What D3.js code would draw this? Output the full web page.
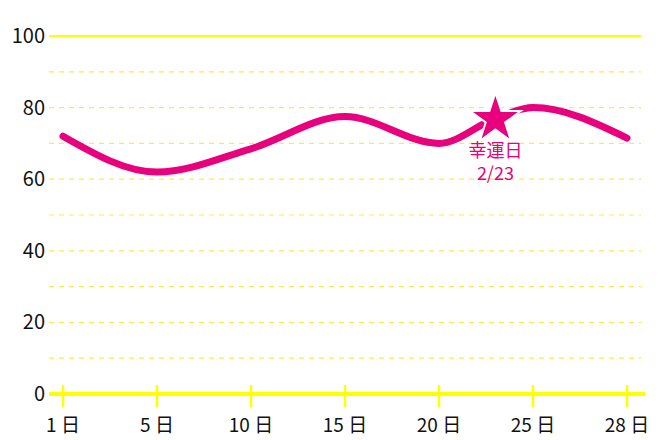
<!DOCTYPE html>
<html><head><meta charset="utf-8">
<script src="https://cdn.jsdelivr.net/npm/d3@7"></script>
<style>body{margin:0;background:#fff}text{font-family:"Noto Sans CJK JP",sans-serif}</style>
</head><body><svg id="c" width="660" height="440"></svg>
<script>
var days = [1, 5, 10, 15, 20, 23, 25, 28];
var values = [72, 62, 68.5, 77.5, 70, 77, 80, 71.5];
var tickDays = [1, 5, 10, 15, 20, 25, 28];
var yTicks = [0, 20, 40, 60, 80, 100];
var luckyDay = 23, luckyLabel = ["幸運日", "2/23"];

var svg = d3.select("#c");
// ticks are evenly spaced on the axis, days between them interpolated piecewise
var x = d3.scaleLinear().domain(tickDays)
    .range(tickDays.map((d, i) => 63 + i * (627 - 63) / (tickDays.length - 1)));
var y = d3.scaleLinear().domain([0, 100]).range([394, 36]);
var pink = "#e8007d", yellow = "#ffff00";

// dashed grid
svg.selectAll(".g").data(d3.range(10, 100, 10)).enter().append("line")
    .attr("x1", 49).attr("x2", 641).attr("y1", d => y(d)).attr("y2", d => y(d))
    .attr("stroke", "#f7f040").attr("stroke-width", 1.2).attr("stroke-dasharray", "5,5");
svg.append("line").attr("x1", 49).attr("x2", 641).attr("y1", y(100)).attr("y2", y(100))
    .attr("stroke", yellow).attr("stroke-width", 2);

// y labels
svg.selectAll(".yl").data(yTicks).enter().append("text")
    .attr("x", 45).attr("y", d => y(d)).attr("dy", "0.35em").attr("text-anchor", "end")
    .attr("font-size", 20).attr("fill", "#111").text(d => d);

// x axis
svg.append("line").attr("x1", 49).attr("x2", 645).attr("y1", y(0)).attr("y2", y(0))
    .attr("stroke", yellow).attr("stroke-width", 4);
svg.selectAll(".xt").data(tickDays).enter().append("line")
    .attr("x1", d => x(d)).attr("x2", d => x(d)).attr("y1", 385).attr("y2", 407)
    .attr("stroke", yellow).attr("stroke-width", 2.5);
svg.selectAll(".xl").data(tickDays).enter().append("text")
    .attr("x", d => x(d)).attr("y", 432).attr("text-anchor", "middle")
    .attr("font-size", 19).attr("fill", "#111")
    .text(d => d + " 日");

// line
var line = d3.line().x((d, i) => x(days[i])).y(d => y(d)).curve(d3.curveMonotoneX);
svg.append("path").attr("d", line(values)).attr("fill", "none")
    .attr("stroke", pink).attr("stroke-width", 7).attr("stroke-linecap", "round");

// star
var li = days.indexOf(luckyDay);
var sx = x(luckyDay), sy = y(values[li]);
svg.append("path").attr("d", d3.symbol(d3.symbolStar, 800)())
    .attr("transform", "translate(" + sx + "," + (sy + 1) + ")")
    .attr("fill", pink).attr("stroke", "#fff").attr("stroke-width", 2);
svg.selectAll(".ll").data(luckyLabel).enter().append("text")
    .attr("x", sx).attr("y", (d, i) => sy + 39 + i * 23).attr("text-anchor", "middle")
    .attr("font-size", 18).attr("fill", pink).text(d => d);
</script></body></html>
